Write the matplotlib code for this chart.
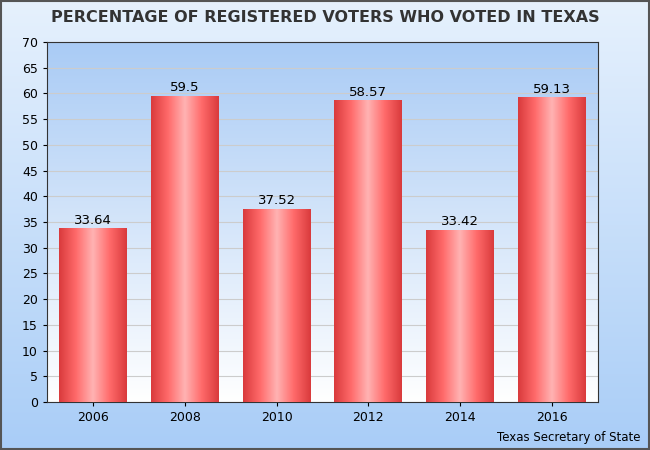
import numpy as np
import matplotlib
matplotlib.use("Agg")
import matplotlib.pyplot as plt
from matplotlib.colors import LinearSegmentedColormap

years = ["2006", "2008", "2010", "2012", "2014", "2016"]
turnout = [33.64, 59.5, 37.52, 58.57, 33.42, 59.13]
labels = ["33.64", "59.5", "37.52", "58.57", "33.42", "59.13"]

fig = plt.figure(figsize=(6.5, 4.5), dpi=100)

# figure background gradient
bg = fig.add_axes([0, 0, 1, 1], zorder=-10)
bg.imshow(np.linspace(0, 1, 256).reshape(-1, 1), aspect="auto", extent=(0, 1, 0, 1),
          cmap=LinearSegmentedColormap.from_list("bg", ["#a9cdf7", "#e6f1fd"]), origin="lower")
bg.set_axis_off()
bg.add_patch(plt.Rectangle((0.002, 0.003), 0.996, 0.994, fill=False, ec="#555555", lw=1.5,
                           transform=bg.transAxes))

ax = fig.add_axes([47 / 650, 48 / 450, 551 / 650, 360 / 450])
ax.imshow(np.linspace(0, 1, 256).reshape(-1, 1), aspect="auto", extent=(0, 1, 0, 1),
          cmap=LinearSegmentedColormap.from_list("pa", ["#ffffff", "#a9cbf5"]), origin="lower",
          transform=ax.transAxes, zorder=0)

bar_cmap = LinearSegmentedColormap.from_list("bar", ["#d93a3c", "#ff6a6a", "#ffb3b3", "#ff6a6a", "#d93a3c"])
x = np.arange(len(years))
w = 0.74
bars = ax.bar(x, turnout, width=w, color="none", zorder=3)
for b, lab in zip(bars, labels):
    x0, h = b.get_x(), b.get_height()
    ax.imshow(np.linspace(0, 1, 256).reshape(1, -1), aspect="auto", cmap=bar_cmap,
              extent=(x0, x0 + w, 0, h), zorder=3)
    ax.text(x0 + w / 2, h + 0.4, lab, ha="center", va="bottom", fontsize=9.5, zorder=4)

ax.set_xlim(-0.5, len(years) - 0.5)
ax.set_ylim(0, 70)
ax.set_yticks(range(0, 71, 5))
ax.set_xticks(x)
ax.set_xticklabels(years)
ax.tick_params(labelsize=9, length=3)
ax.yaxis.grid(True, color="#cccccc", lw=0.8, zorder=1)
ax.set_axisbelow(True)
for s in ax.spines.values():
    s.set_color("#333333")

fig.text(0.5, 0.962, "PERCENTAGE OF REGISTERED VOTERS WHO VOTED IN TEXAS", ha="center",
         va="center", fontsize=11.5, fontweight="bold", color="#333333")
fig.text(0.985, 0.027, "Texas Secretary of State", ha="right", va="center", fontsize=8.5)

fig.savefig("out.png", dpi=100)
